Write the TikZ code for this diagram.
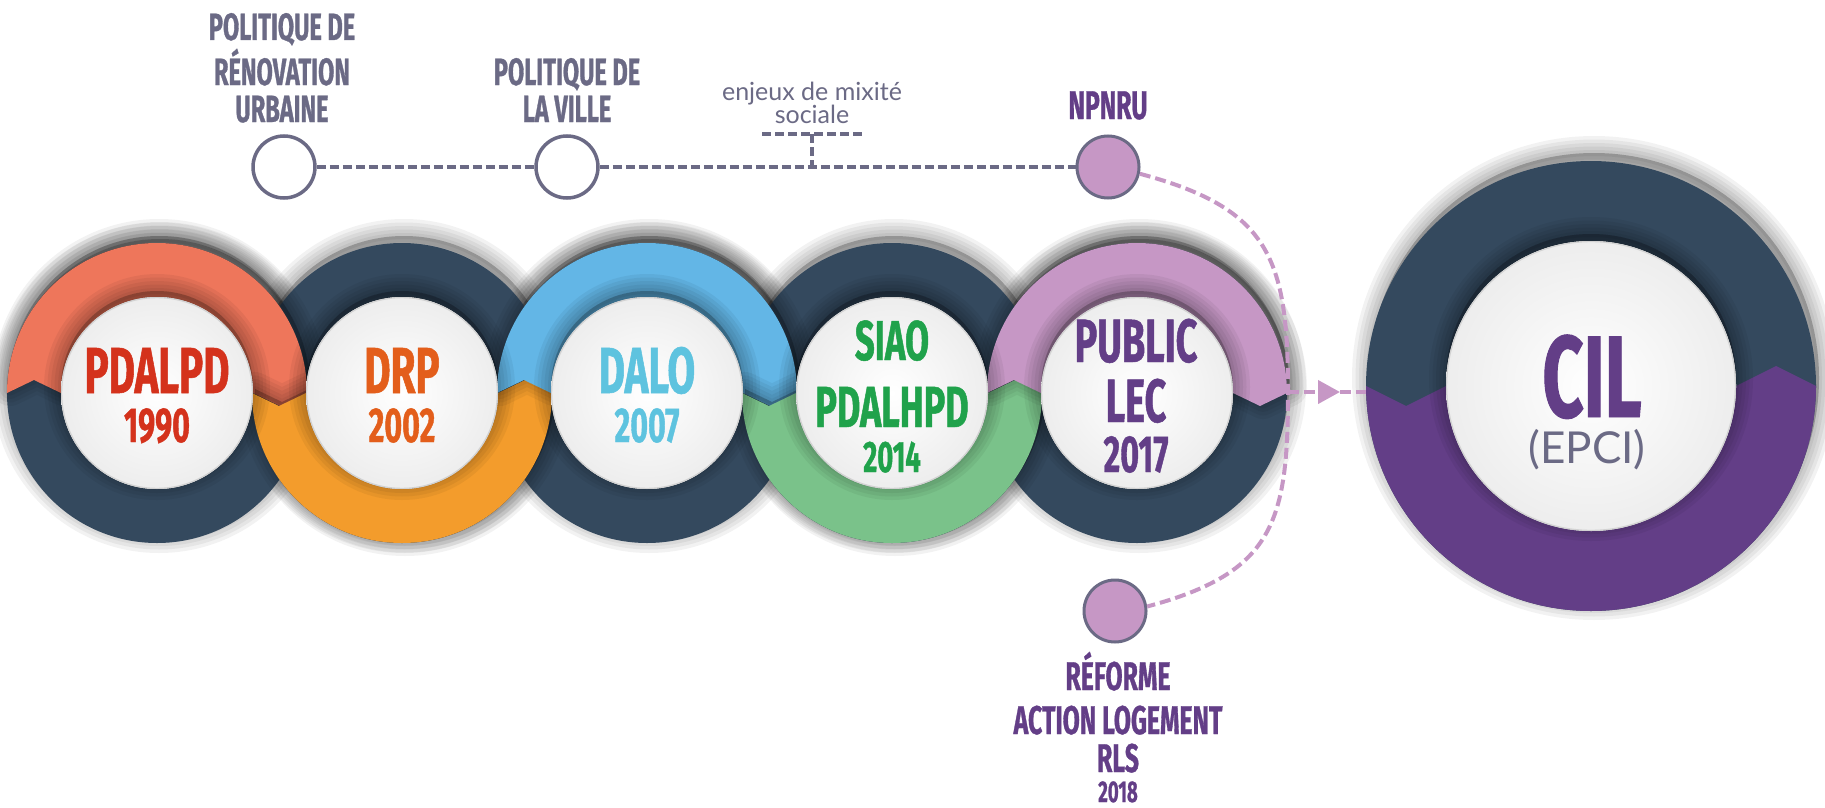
\documentclass[tikz,border=0pt]{standalone}
\usepackage{fontspec}
\newfontfamily\cond{Fira Sans}[FakeStretch=0.62,FakeBold=0.8]
\newfontfamily\lato{Lato}
\usetikzlibrary{arrows.meta}
\definecolor{navy}{HTML}{34495E}
\definecolor{salmon}{HTML}{EE765B}
\definecolor{orng}{HTML}{F39C2C}
\definecolor{sky}{HTML}{63B6E6}
\definecolor{mint}{HTML}{7AC28A}
\definecolor{lilac}{HTML}{C697C5}
\definecolor{plum}{HTML}{633E87}
\definecolor{slate}{HTML}{6B6A85}
\definecolor{txtred}{HTML}{D4321C}
\definecolor{txtorange}{HTML}{E35E1B}
\definecolor{txtblue}{HTML}{5EC3DF}
\definecolor{txtgreen}{HTML}{20A24B}

\newcommand\softshadow[2][]{%
  \foreach \w in {34,27,20,13,6}{%
    \path[fill=black,fill opacity=0.05,draw=black,draw opacity=0.05,line width=\w pt,line join=round,#1] #2;}}
\newcommand\toppiece{(-150,0) arc[start angle=180,end angle=0,radius=150pt] -- (123,-13) -- (96,0) arc[start angle=0,end angle=180,radius=96pt] -- (-123,13) -- cycle}
\newcommand\botpiece{(-150,0) arc[start angle=180,end angle=360,radius=150pt] -- (123,13) -- (96,0) arc[start angle=360,end angle=180,radius=96pt] -- (-123,-13) -- cycle}
\newcommand\cilpiece{(-225,0) arc[start angle=180,end angle=360,radius=225pt] -- (185,20) -- (145,0) arc[start angle=360,end angle=180,radius=145pt] -- (-185,-20) -- cycle}

\tikzset{
  disc/.style={shading=radial,inner color=white,outer color=gray!14},
  discrim/.style={draw=gray!35,line width=1.2pt},
  lbl/.style={anchor=base,inner sep=0pt},
  topcirc/.style={circle,minimum size=62pt,inner sep=0pt,draw=slate,line width=3.5pt,fill=white},
  pinkcirc/.style={circle,minimum size=62pt,inner sep=0pt,draw=slate,line width=3pt,fill=lilac},
  greydash/.style={draw=slate,line width=3.5pt,dash pattern=on 9pt off 4pt},
  pinkdash/.style={draw=lilac,line width=4pt,dash pattern=on 11pt off 5pt},
}
\newcommand\fc[1]{\cond\bfseries\fontsize{#1}{#1}\selectfont}

\begin{document}
\begin{tikzpicture}[x=1pt,y=1pt]
\useasboundingbox (0,0) rectangle (1825,-808);
\fill[white] (0,0) rectangle (1825,-808);

% outer shadows
\foreach \cx in {157,402,647,892,1137}{\softshadow[yshift=7pt,xshift=2pt]{(\cx,-393) circle[radius=150pt]}}
\softshadow[yshift=8pt,xshift=3pt]{(1591,-386) circle[radius=225pt]}

% dark rings
\foreach \cx in {157,402,647,892,1137}{\fill[navy,even odd rule] (\cx,-393) circle[radius=150pt] circle[radius=96pt];}
\fill[navy,even odd rule] (1591,-386) circle[radius=225pt] circle[radius=145pt];

% coloured halves
\begin{scope}[shift={(157,-393)}]\softshadow[yshift=4pt,xshift=3pt]{\toppiece}\fill[salmon] \toppiece;\end{scope}
\begin{scope}[shift={(402,-393)}]\softshadow[yshift=4pt,xshift=3pt]{\botpiece}\fill[orng] \botpiece;\end{scope}
\begin{scope}[shift={(647,-393)}]\softshadow[yshift=4pt,xshift=3pt]{\toppiece}\fill[sky] \toppiece;\end{scope}
\begin{scope}[shift={(892,-393)}]\softshadow[yshift=4pt,xshift=3pt]{\botpiece}\fill[mint] \botpiece;\end{scope}
\begin{scope}[shift={(1137,-393)}]\softshadow[yshift=4pt,xshift=3pt]{\toppiece}\fill[lilac] \toppiece;\end{scope}
\begin{scope}[shift={(1591,-386)}]\fill[plum] \cilpiece;\end{scope}

% white discs
\foreach \cx in {157,402,647,892,1137}{%
  \softshadow[yshift=6pt]{(\cx,-393) circle[radius=96pt]}
  \path[disc] (\cx,-393) circle[radius=96pt];
  \draw[discrim] (\cx,-393) circle[radius=95.4pt];}
\softshadow[yshift=7pt]{(1591,-386) circle[radius=145pt]}
\path[disc] (1591,-386) circle[radius=145pt];
\draw[discrim] (1591,-386) circle[radius=144.4pt];

% ring texts
\node[lbl,txtred,font=\fc{65}] (t1a) at (157,-393) {PDALPD};
\node[lbl,txtred,font=\fc{49}] (t1b) at (157,-442) {1990};
\node[lbl,txtorange,font=\fc{65}] (t2a) at (402,-393) {DRP};
\node[lbl,txtorange,font=\fc{49}] (t2b) at (402,-442) {2002};
\node[lbl,txtblue,font=\fc{65}] (t3a) at (647,-393) {DALO};
\node[lbl,txtblue,font=\fc{49}] (t3b) at (647,-442) {2007};
\node[lbl,txtgreen,font=\fc{56}] (t4a) at (892,-360) {SIAO};
\node[lbl,txtgreen,font=\fc{58}] (t4b) at (892,-427) {PDALHPD};
\node[lbl,txtgreen,font=\fc{44}] (t4c) at (892,-472) {2014};
\node[lbl,plum,font=\fc{61}] (t5a) at (1136,-362) {PUBLIC};
\node[lbl,plum,font=\fc{61}] (t5b) at (1136,-422) {LEC};
\node[lbl,plum,font=\fc{52}] (t5c) at (1136,-472) {2017};
\node[lbl,plum,font=\fc{116}] (t6a) at (1592,-417) {CIL};
\node[lbl,slate,font=\lato\fontsize{44}{44}\selectfont] (t6b) at (1587,-463) {(EPCI)};

% top milestones
\node[topcirc] (pc1) at (284,-167) {};
\node[topcirc] (pc2) at (567,-167) {};
\node[pinkcirc] (npnru) at (1108,-167) {};
\node[pinkcirc] (reforme) at (1115,-611) {};

\node[lbl,slate,font=\fc{38}] (l1a) at (282,-40) {POLITIQUE DE};
\node[lbl,slate,font=\fc{38}] (l1b) at (282,-85) {RÉNOVATION};
\node[lbl,slate,font=\fc{38}] (l1c) at (282,-122) {URBAINE};
\node[lbl,slate,font=\fc{38}] (l2a) at (567,-85) {POLITIQUE DE};
\node[lbl,slate,font=\fc{38}] (l2b) at (567,-122) {LA VILLE};
\node[lbl,plum,font=\fc{40}] (l3) at (1108,-119) {NPNRU};
\node[lbl,slate,font=\lato\fontsize{25}{25}\selectfont] (e1) at (812,-100) {enjeux de mixité};
\node[lbl,slate,font=\lato\fontsize{25}{25}\selectfont] (e2) at (812,-123) {sociale};
\node[lbl,plum,font=\fc{40}] (f1) at (1118,-690) {RÉFORME};
\node[lbl,plum,font=\fc{40}] (f2) at (1118,-734) {ACTION LOGEMENT};
\node[lbl,plum,font=\fc{40}] (f3) at (1118,-772) {RLS};
\node[lbl,plum,font=\fc{30}] (f4) at (1118,-802) {2018};

% grey dashed timeline
\draw[greydash] (pc1.east) -- (pc2.west);
\draw[greydash] (pc2.east) -- (npnru.west);
\coordinate (tl) at (762,-134);
\coordinate (tr) at (862,-134);
\coordinate (tm) at (812,-134);
\coordinate (tb) at (812,-167);
\draw[greydash] (tl) -- (tr);
\draw[greydash] (tm) -- (tb);

% pink dashed connectors
\coordinate (bend) at (1288,-392);
\coordinate (ahead) at (1340,-392);
\coordinate (cilw) at (1366,-392);
\draw[pinkdash] (npnru.-12) to[out=-15,in=90,looseness=1.3] (bend) to[out=-90,in=15,looseness=1.3] (reforme.8);
\draw[pinkdash,-{Triangle[length=22pt,width=23pt]}] (bend) -- (ahead);
\draw[pinkdash] (ahead) -- (cilw);
\end{tikzpicture}
\end{document}
